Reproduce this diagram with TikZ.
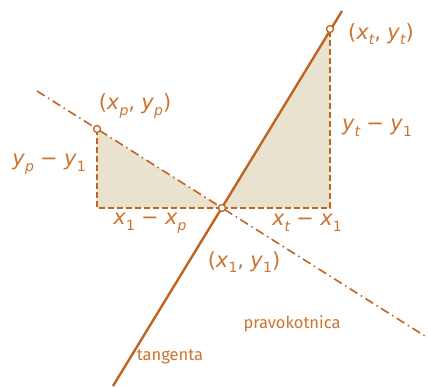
\documentclass[tikz,border=0pt]{standalone}
\usepackage{fontspec}
\setmainfont{Fira Sans}
\newfontfamily\lblfont{DejaVu Sans}
\definecolor{lineor}{RGB}{192,100,35}
\definecolor{textor}{RGB}{204,116,48}
\definecolor{trifill}{RGB}{232,226,206}
\newcommand\sbi[1]{\raisebox{-0.5ex}{\fontsize{14}{14}\selectfont\itshape #1}}
\newcommand\sbu[1]{\raisebox{-0.5ex}{\fontsize{14}{14}\selectfont #1}}
\newcommand\mn{\hspace{0.3em}\char"2212\hspace{0.3em}}
\newcommand\cm{,\hspace{0.3em}}
\begin{document}
\begin{tikzpicture}[x=1pt,y=-1pt,
  lbl/.style={text=textor,font=\lblfont\fontsize{21}{22}\selectfont,inner sep=0pt},
  word/.style={text=textor,font=\fontsize{16.5}{17}\selectfont,inner sep=0pt},
  tang/.style={draw=lineor,line width=2.4pt},
  norml/.style={draw=lineor,line width=1.6pt,dash pattern=on 9pt off 4pt on 1.5pt off 4pt},
  guide/.style={draw=lineor,line width=1.4pt,dash pattern=on 6pt off 3pt},
  pt/.style={circle,draw=lineor,fill=white,line width=1.3pt,inner sep=0pt,minimum size=7pt}]
\useasboundingbox (0,0) rectangle (428,386);
\coordinate (P) at (97,129);
\coordinate (O) at (222,208);
\coordinate (T) at (330,29);
\coordinate (Pf) at (97,208);
\coordinate (Tf) at (330,208);
\coordinate (Ntop) at (37,91);
\coordinate (Nbot) at (428,338);
\coordinate (Ttop) at (342,11);
\coordinate (Tbot) at (113,386);
% shaded triangles
\fill[trifill] (P) -- (Pf) -- (O) -- cycle;
\fill[trifill] (O) -- (Tf) -- (T) -- cycle;
% guide lines
\draw[guide] (P) -- (Pf) -- (O);
\draw[guide] (O) -- (Tf) -- (T);
% normal and tangent
\draw[norml] (Ntop) -- (Nbot);
\draw[tang] (Tbot) -- (Ttop);
% points
\node[pt] (p) at (P) {};
\node[pt] (o) at (O) {};
\node[pt] (t) at (T) {};
% labels
\node[lbl] (lt) at (381,34) {(\textit{x}\sbi{t}\cm\textit{y}\sbi{t})};
\node[lbl] (lyt) at (377,128) {\textit{y}\sbi{t}\mn\textit{y}\sbu{1}};
\node[lbl] (lp) at (135,106) {(\textit{x}\sbi{p}\cm\textit{y}\sbi{p})};
\node[lbl] (lyp) at (49,164) {\textit{y}\sbi{p}\mn\textit{y}\sbu{1}};
\node[lbl] (lxp) at (150,223) {\textit{x}\sbu{1}\mn\textit{x}\sbi{p}};
\node[lbl] (lxt) at (307,223) {\textit{x}\sbi{t}\mn\textit{x}\sbu{1}};
\node[lbl] (lo) at (244,262) {(\textit{x}\sbu{1}\cm\textit{y}\sbu{1})};
\node[word] (wn) at (292,324) {pravokotnica};
\node[word] (wt) at (170,357) {tangenta};
\end{tikzpicture}
\end{document}
